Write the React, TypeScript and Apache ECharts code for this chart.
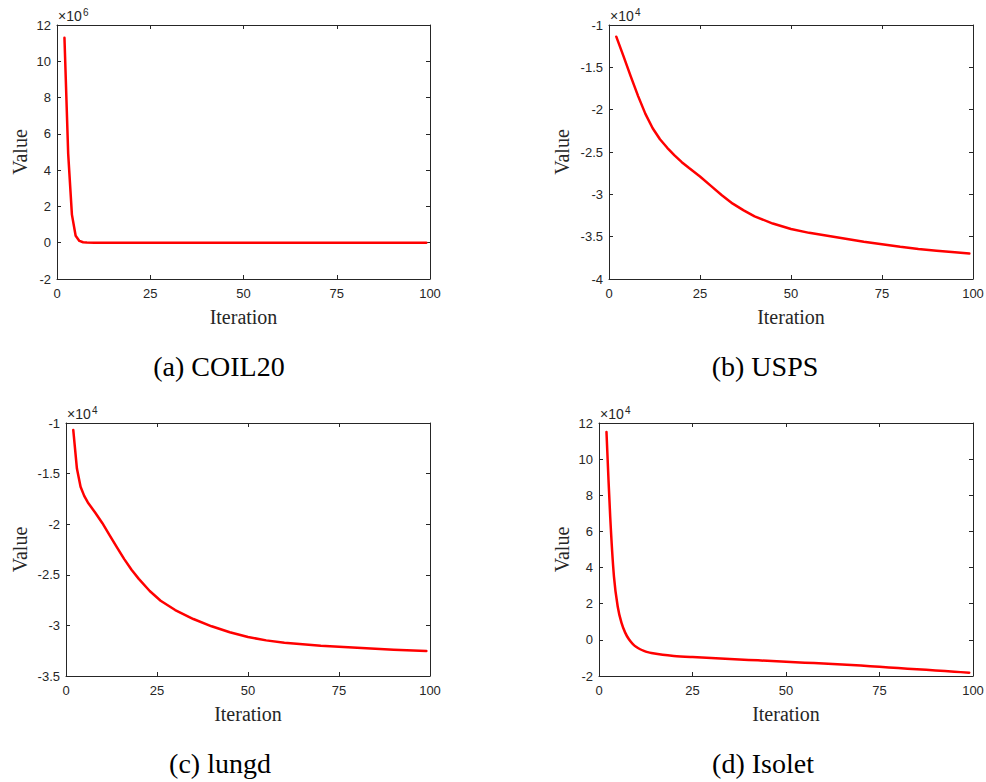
import React, { useEffect, useRef } from "react";
import * as echarts from "echarts";

// ---- Data ----
const xTicks = [0, 25, 50, 75, 100];

// (a) COIL20, values in raw units (axis shows ×10^6)
const itersA = [2, 3, 4, 5, 6, 7, 8, 10, 15, 20, 30, 40, 50, 60, 70, 80, 90, 99];
const valuesA = [11300000, 4900000, 1550000, 380000, 100000, 25000, 6000, 2000, 1000, 800, 600, 500, 400, 350, 300, 250, 200, 150];

// (b) USPS (axis shows ×10^4)
const itersB = [2, 4, 6, 8, 10, 12, 14, 16, 18, 20, 22, 25, 28, 31, 34, 37, 40, 45, 50, 55, 60, 65, 70, 75, 80, 85, 90, 95, 99];
const valuesB = [-11380, -13700, -16100, -18400, -20500, -22200, -23500, -24500, -25400, -26200, -26900, -27900, -29000, -30100, -31100, -31900, -32600, -33450, -34100, -34550, -34900, -35250, -35600, -35900, -36200, -36450, -36650, -36850, -37000];

// (c) lungd (axis shows ×10^4)
const itersC = [2, 3, 4, 5, 6, 7, 8, 10, 12, 14, 16, 18, 20, 23, 26, 30, 35, 40, 45, 50, 55, 60, 70, 80, 90, 99];
const valuesC = [-10700, -14500, -16300, -17200, -17850, -18350, -18850, -19900, -21100, -22300, -23450, -24500, -25400, -26600, -27560, -28480, -29370, -30090, -30680, -31150, -31480, -31710, -32000, -32200, -32400, -32530];

// (d) Isolet (axis shows ×10^4)
const itersD = [2, 3, 4, 5, 6, 7, 8, 9, 10, 11, 12, 13, 14, 17, 20, 25, 30, 35, 40, 45, 50, 55, 60, 65, 70, 75, 80, 85, 90, 95, 99];
const valuesD = [115000, 68000, 35000, 18500, 9500, 4000, 300, -2200, -4000, -5200, -6100, -6800, -7300, -8300, -8900, -9500, -10000, -10600, -11100, -11600, -12100, -12600, -13100, -13600, -14200, -14900, -15600, -16300, -16900, -17600, -18200];

const captions = ["(a) COIL20", "(b) USPS", "(c) lungd", "(d) Isolet"];
const exponents = ["6", "4", "4", "4"];

const SANS = "'Liberation Sans', Arial, Helvetica, sans-serif";
const SERIF = "'Liberation Serif', 'Times New Roman', serif";
const AXC = "#262626";

type Panel = {
  iters: number[];
  values: number[];
  yMin: number;
  yMax: number;
  yInt: number;
  scale: number;
  rect: { left: number; top: number; width: number; height: number };
  nameGap: number;
  smooth: number | boolean;
  caption: { x: number; y: number };
};

const panels: Panel[] = [
  { iters: itersA, values: valuesA, yMin: -2e6, yMax: 12e6, yInt: 2e6, scale: 1e6,
    rect: { left: 57, top: 25, width: 373, height: 254 }, nameGap: 27, smooth: false, caption: { x: 219, y: 366 } },
  { iters: itersB, values: valuesB, yMin: -4e4, yMax: -1e4, yInt: 5e3, scale: 1e4,
    rect: { left: 609, top: 25, width: 364, height: 254 }, nameGap: 37, smooth: false, caption: { x: 765, y: 366 } },
  { iters: itersC, values: valuesC, yMin: -3.5e4, yMax: -1e4, yInt: 5e3, scale: 1e4,
    rect: { left: 66, top: 423, width: 364, height: 253 }, nameGap: 36, smooth: false, caption: { x: 220, y: 763 } },
  { iters: itersD, values: valuesD, yMin: -2e4, yMax: 12e4, yInt: 2e4, scale: 1e4,
    rect: { left: 599, top: 423, width: 374, height: 253 }, nameGap: 27, smooth: 0.3, caption: { x: 763, y: 763 } },
];

function fmt(v: number, scale: number) {
  const s = Math.round((v / scale) * 10) / 10;
  return String(s);
}

export default function App() {
  const ref = useRef<HTMLDivElement>(null);
  useEffect(() => {
    if (!ref.current) return;
    const chart = echarts.init(ref.current, undefined, { renderer: "svg" });
    const grid: any[] = [];
    const xAxis: any[] = [];
    const yAxis: any[] = [];
    const series: any[] = [];
    const graphic: any[] = [];
    const lineStyle = { color: AXC, width: 1 };
    panels.forEach((p, i) => {
      grid.push({ ...p.rect, outerBoundsMode: "none", containLabel: false });
      const baseX = {
        type: "value", gridIndex: i, min: xTicks[0], max: xTicks[xTicks.length - 1], interval: 25,
        axisLine: { show: true, onZero: false, lineStyle },
        axisTick: { show: true, inside: true, length: 4, lineStyle },
        splitLine: { show: false },
      };
      xAxis.push({
        ...baseX, position: "bottom",
        axisLabel: { color: AXC, fontFamily: SANS, fontSize: 13, margin: 8 },
        name: "Iteration", nameLocation: "middle", nameGap: 28,
        nameTextStyle: { fontFamily: SERIF, fontSize: 20, color: AXC },
      });
      xAxis.push({ ...baseX, position: "top", axisLabel: { show: false } });
      const baseY = {
        type: "value", gridIndex: i, min: p.yMin, max: p.yMax, interval: p.yInt,
        axisLine: { show: true, onZero: false, lineStyle },
        axisTick: { show: true, inside: true, length: 4, lineStyle },
        splitLine: { show: false },
      };
      yAxis.push({
        ...baseY, position: "left",
        axisLabel: { color: AXC, fontFamily: SANS, fontSize: 13, margin: 6, formatter: (v: number) => fmt(v, p.scale) },
        name: "Value", nameLocation: "middle", nameGap: p.nameGap, nameRotate: 90,
        nameTextStyle: { fontFamily: SERIF, fontSize: 20, color: AXC },
      });
      yAxis.push({ ...baseY, position: "right", axisLabel: { show: false } });
      series.push({
        type: "line", xAxisIndex: i * 2, yAxisIndex: i * 2,
        data: p.iters.map((x, k) => [x, p.values[k]]),
        showSymbol: false, symbol: "none", smooth: p.smooth,
        lineStyle: { color: "#ff0000", width: 2.5, join: "round", cap: "round" },
        clip: false,
      });
      graphic.push({
        type: "text", x: p.rect.left + 1, y: p.rect.top - 9,
        style: { text: "×10", font: `14px ${SANS}`, fill: AXC, align: "left", verticalAlign: "middle" },
      });
      graphic.push({
        type: "text", x: p.rect.left + 26, y: p.rect.top - 13,
        style: { text: exponents[i], font: `10px ${SANS}`, fill: AXC, align: "left", verticalAlign: "middle" },
      });
      graphic.push({
        type: "text", x: p.caption.x, y: p.caption.y,
        style: { text: captions[i], font: `28px ${SERIF}`, fill: "#000", align: "center", verticalAlign: "middle" },
      });
    });
    chart.setOption({ animation: false, grid, xAxis, yAxis, series, graphic });
    return () => chart.dispose();
  }, []);
  return (
    <div
      ref={ref}
      style={{ position: "absolute", left: 0, top: 0, width: 986, height: 782, background: "#fff" }}
    />
  );
}
